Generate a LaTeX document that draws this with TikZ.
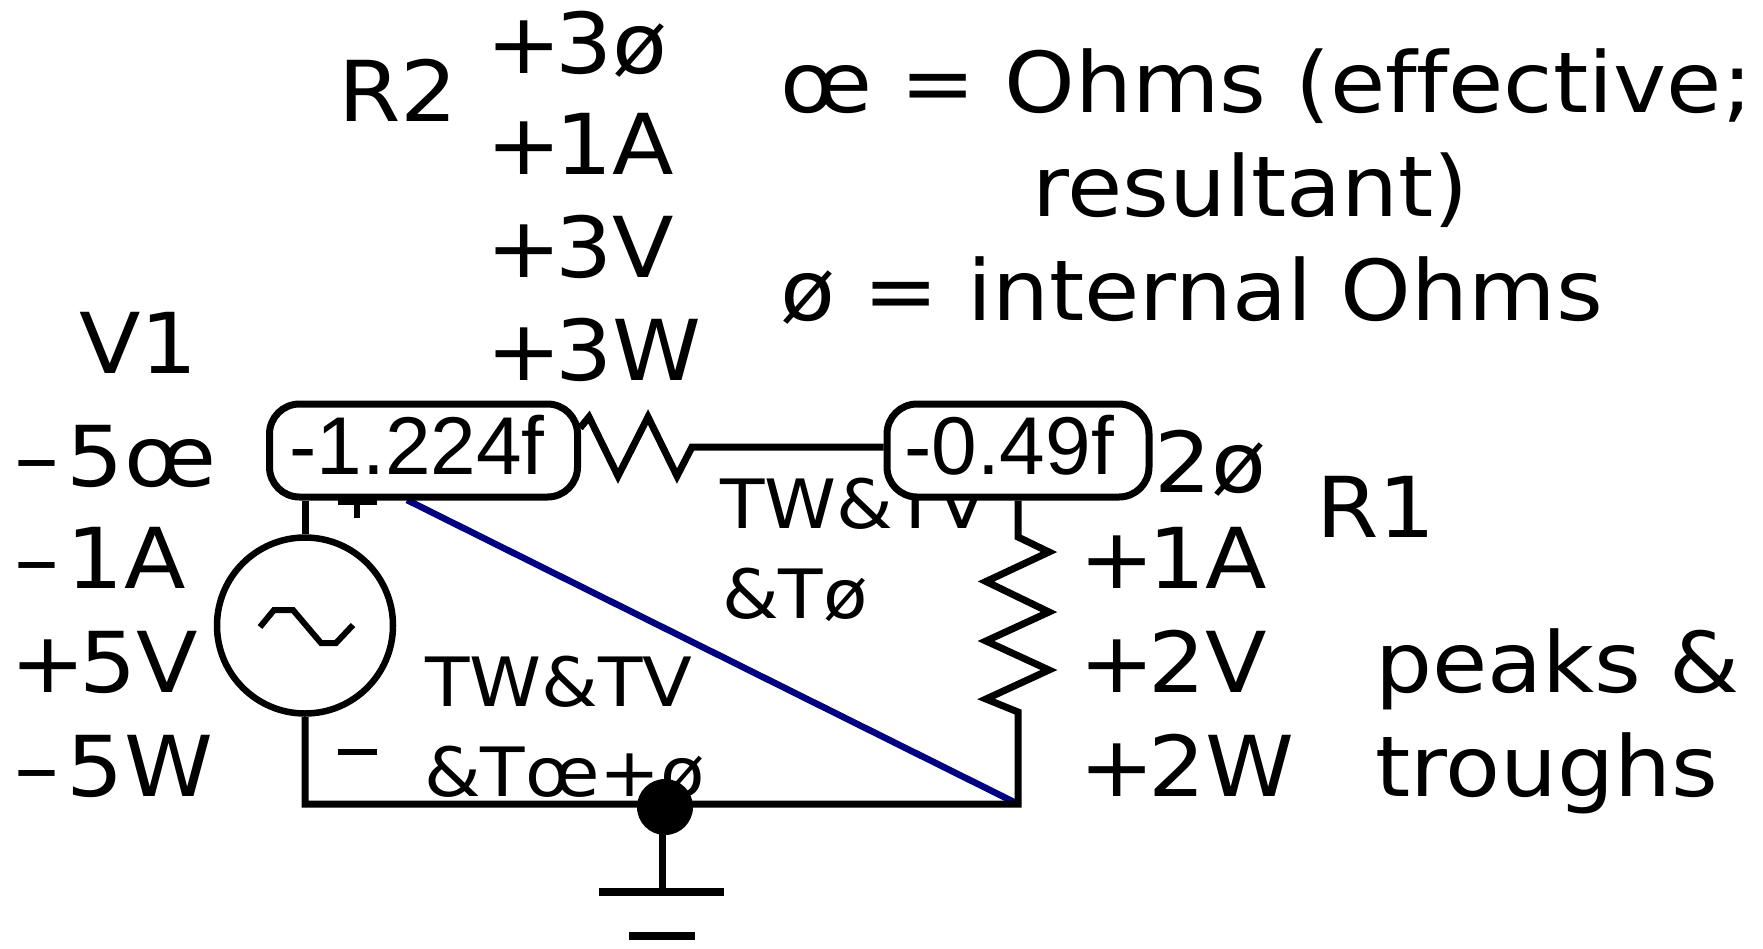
\documentclass[tikz,border=0pt]{standalone}
\usepackage{fontspec}
\setmainfont[FakeStretch=1.07,Ligatures=NoCommon]{DejaVu Sans}
\newfontfamily\boxfont{Liberation Sans}
\newcommand{\plusk}{+\kern-6pt}
\newcommand{\minusk}{–\kern8pt}
\tikzset{x=1pt,y=-1pt,
 big/.style={anchor=base west,inner sep=0pt,outer sep=0pt,font=\fontsize{84}{86}\selectfont},
 mid/.style={anchor=base west,inner sep=0pt,outer sep=0pt,font=\fontsize{68}{70}\selectfont},
 wire/.style={draw=black,line width=7pt,line join=miter},
 probe/.style={draw=black,fill=white,line width=7pt,rounded corners=30pt,inner sep=0pt,anchor=center},
 probetext/.style={anchor=base,inner sep=0pt,font=\boxfont\fontsize{82}{84}\selectfont},
}
\begin{document}
\begin{tikzpicture}
\useasboundingbox (0,0) rectangle (1763,948);
\coordinate (corner) at (1018,804);
\coordinate (bl) at (305,804);
\coordinate (r2a) at (580,428);
\coordinate (r2b) at (692,447);
\coordinate (r1a) at (1018,537);
\coordinate (r1b) at (1018,712);
\coordinate (blue0) at (407,500);
\node[big] (tr2) at (338,121) {R2};
\node[big] (t1) at (486,73) {\plusk 3ø};
\node[big] (t2) at (486,174) {\plusk 1A};
\node[big] (t3) at (486,277) {\plusk 3V};
\node[big] (t4) at (486,380) {\plusk 3W};
\node[big] (n1) at (780,112) {œ = Ohms (effective;};
\node[big] (n2) at (1032,216) {resultant)};
\node[big] (n3) at (780,320) {ø = internal Ohms};
\node[big] (tv1) at (79,373) {V1};
\node[big] (v1) at (14,486) {\minusk 5œ};
\node[big] (v2) at (14,588) {\minusk 1A};
\node[big] (v3) at (10,692) {\plusk 5V};
\node[big] (v4) at (14,796) {\minusk 5W};
\node[big] (r0) at (1154,492) {2ø};
\node[big] (tr1) at (1316,537) {R1};
\node[big] (r1) at (1079,588) {\plusk 1A};
\node[big] (r2) at (1079,692) {\plusk 2V};
\node[big] (r3) at (1079,796) {\plusk 2W};
\node[big] (p1) at (1375,692) {peaks \&};
\node[big] (p2) at (1375,796) {troughs};
\node[mid] (m1) at (720,528) {TW\&TV};
\node[mid] (m2) at (722,618) {\&Tø};
\node[mid] (m3) at (425,706) {TW\&TV};
\node[mid] (m4) at (424,796) {\&Tœ+ø};
% source
\node[draw=black,line width=6.5pt,circle,minimum size=176pt,inner sep=0pt] (src) at (305,625.5) {};
\draw[line width=6pt] (260,627) -- (274,610) -- (293,610) -- (321,643) -- (336,643) -- (353,625);
% polarity
\coordinate (pl) at (338,502);\coordinate (pr) at (377,502);\coordinate (pm) at (357,502);\coordinate (pd) at (357,518);
\draw[line width=6pt] (pl) -- (pr) (pm) -- (pd);
\coordinate (ml) at (338,752);\coordinate (mr) at (377,752);
\draw[line width=6pt] (ml) -- (mr);
% blue
\draw[draw={rgb,255:red,0;green,0;blue,128},line width=6.5pt] (blue0) -- (corner);
% probes
\node[probe,minimum width=308pt,minimum height=93pt] (b1) at (423.5,450.5) {};
\node[probe,minimum width=262pt,minimum height=93pt] (b2) at (1018,450.5) {};
\node[probetext] (b1t) at (417,474) {-1.224f};
\node[probetext] (b2t) at (1009,474) {-0.49f};
% wiring
\draw[wire] (b1.south -| src) -- (src.north);
\draw[wire] (src.south) -- (bl) -- (corner) -- (r1b) -- (986,699) -- (1049,670) -- (986,641) -- (1049,612) -- (986,581.5) -- (1049,552) -- (r1a) -- (b2.south -| r1a);
\draw[wire] (r2a) -- (589,417) -- (618,476) -- (648,417) -- (677,476) -- (r2b) -- (r2b -| b2.west);
% ground
\node[circle,fill=black,minimum size=56pt,inner sep=0pt] (dot) at (665,807) {};
\coordinate (g1) at (662,892);
\coordinate (g1l) at (599,892);\coordinate (g1r) at (724,892);
\coordinate (g2l) at (629,936);\coordinate (g2r) at (695,936);
\draw[wire] (dot.center -| g1) -- (g1);
\draw[line width=7.5pt] (g1l) -- (g1r);
\draw[line width=7.5pt] (g2l) -- (g2r);
\end{tikzpicture}
\end{document}
